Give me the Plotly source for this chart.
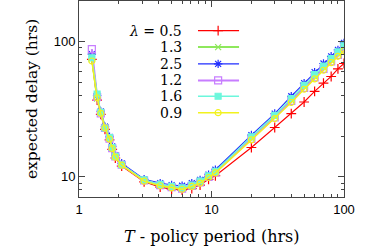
import plotly.graph_objects as go
import numpy as np

T = [1.25, 1.37, 1.46, 1.57, 1.7, 1.78, 1.88, 2.1, 3.1, 4.1, 5.0, 6.0, 7.1, 8.2, 9.5, 10.7,
     20, 30, 40, 50, 60, 70, 80, 90, 100]

delay_05 = [74, 37, 29, 22.5, 18.8, 16, 13.8, 12, 9.2, 8.4, 8.1, 8.0, 8.2, 8.7, 9.6, 10.2,
            16.5, 23.2, 29.4, 35.8, 42.9, 49.4, 55.3, 63, 69]
delay_13 = [78, 38, 30, 23.5, 19.5, 16.5, 14.3, 12.4, 9.4, 8.6, 8.3, 8.2, 8.6, 9.2, 10.1, 10.9,
            19.4, 28, 37, 46.5, 55.5, 64.5, 73, 81.5, 91]
delay_25 = [81, 40, 30.5, 23.5, 19.8, 16.8, 14.5, 12.6, 9.6, 9.0, 8.7, 8.6, 9.0, 9.5, 10.4, 11.3,
            20.4, 29.4, 39.5, 49.4, 59.5, 69, 78, 87, 98]
delay_12 = [88, 39, 29.5, 23, 19.2, 16.3, 14.2, 12.3, 9.4, 8.7, 8.4, 8.2, 8.6, 9.1, 10.0, 10.8,
            19.1, 27.5, 36.5, 45.5, 54.5, 63, 71.5, 80, 89]
delay_16 = [76, 41, 30, 23, 19.5, 16.5, 14.2, 12.3, 9.5, 8.8, 8.5, 8.3, 8.7, 9.3, 10.2, 11.0,
            19.8, 28.5, 38, 47.5, 57, 66, 75, 84, 93]
delay_09 = [72, 38.5, 29.5, 23, 19, 16.2, 14, 12.2, 9.3, 8.6, 8.3, 8.1, 8.5, 9.0, 9.9, 10.7,
            18.8, 27, 35.5, 44.5, 53, 61.5, 70, 78, 86]

lambda_labels = ["0.5", "1.3", "2.5", "1.2", "1.6", "0.9"]

series = [
    (delay_05, "#ff0000", 1.1, "cross-thin", 7),
    (delay_13, "#8ee85c", 2.0, "x-thin", 6),
    (delay_25, "#1f2dff", 1.1, "asterisk", 7),
    (delay_12, "#c77dff", 2.0, "square-open", 7),
    (delay_16, "#6cf7dc", 1.5, "square", 6),
    (delay_09, "#f2f21e", 1.5, "circle-open", 6),
]

fig = go.Figure()
for vals, col, lw, sym, ms in series:
    fig.add_trace(go.Scatter(
        x=T, y=vals, mode="lines+markers",
        line=dict(color=col, width=lw),
        marker=dict(symbol=sym, size=ms, color=col, line=dict(color=col, width=1.2)),
        showlegend=False, hoverinfo="skip"))

# legend keys on an overlay axis
leg_y = [0.849, 0.765, 0.679, 0.595, 0.514, 0.430]
for (vals, col, lw, sym, ms), yy, lab in zip(series, leg_y, lambda_labels):
    fig.add_trace(go.Scatter(
        x=[0.449, 0.604], y=[yy, yy], mode="lines", xaxis="x2", yaxis="y2",
        line=dict(color=col, width=lw), showlegend=False, hoverinfo="skip"))
    fig.add_trace(go.Scatter(
        x=[0.525], y=[yy], mode="markers", xaxis="x2", yaxis="y2",
        marker=dict(symbol=sym, size=ms, color=col, line=dict(color=col, width=1.2)),
        showlegend=False, hoverinfo="skip"))
    txt = ("<i>λ</i> = " + lab) if lab == lambda_labels[0] else lab
    fig.add_annotation(x=0.395, y=yy, xref="paper", yref="paper", text=txt,
                       showarrow=False, xanchor="right", yanchor="middle",
                       font=dict(family="DejaVu Serif", size=14, color="black"))

minor_vals = [v * d for d in (1, 10) for v in range(2, 10)]
axis_common = dict(type="log", showgrid=False, zeroline=False, showline=True,
                   linecolor="#444", linewidth=1, mirror="allticks", automargin=False,
                   ticks="inside", ticklen=6, tickcolor="#444",
                   tickfont=dict(family="Liberation Sans", size=13, color="black"),
                   minor=dict(tickvals=minor_vals, ticks="inside", ticklen=3,
                              tickcolor="#444", showgrid=False))

fig.update_layout(
    width=388, height=247,
    margin=dict(l=79, r=44, t=1, b=50, autoexpand=False),
    plot_bgcolor="white", paper_bgcolor="white",
    xaxis=dict(range=[0, 2], tickvals=[1, 10, 100], ticktext=["1", "10", "100"], **axis_common),
    yaxis=dict(range=[np.log10(7.1), np.log10(200)], tickvals=[10, 100],
               ticktext=["10", "100"], **axis_common),
    xaxis2=dict(range=[0, 1], overlaying="x", visible=False, fixedrange=True, automargin=False),
    yaxis2=dict(range=[0, 1], overlaying="y", visible=False, fixedrange=True, automargin=False),
)

fig.add_annotation(x=0.5, y=-0.2, xref="paper", yref="paper",
                   text="<i>T</i> - policy period (hrs)", showarrow=False,
                   xanchor="center", yanchor="middle",
                   font=dict(family="DejaVu Serif", size=16, color="black"))
fig.add_annotation(x=-0.177, y=0.5, xref="paper", yref="paper",
                   text="expected delay (hrs)", showarrow=False, textangle=-90,
                   xanchor="center", yanchor="middle",
                   font=dict(family="DejaVu Serif", size=15.5, color="black"))

fig.write_html("out.html", config={"displayModeBar": False},
               post_script="document.body.style.margin='0';document.body.style.overflow='hidden';")
